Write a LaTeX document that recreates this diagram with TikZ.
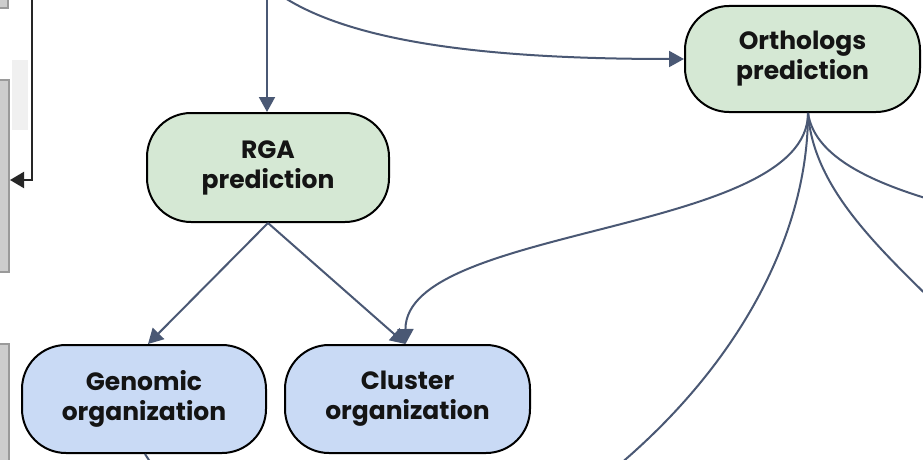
\documentclass[tikz,border=0pt]{standalone}
\usepackage{fontspec}
\setmainfont{Poppins}
\usetikzlibrary{arrows.meta}
\definecolor{slate}{HTML}{4A5874}
\definecolor{greenfill}{HTML}{D5E8D4}
\definecolor{bluefill}{HTML}{C9DAF5}
\definecolor{panelgray}{HTML}{CDCDCD}
\definecolor{panelline}{HTML}{9A9A9A}
\tikzset{
  stepbox/.style={draw=black, line width=2pt, rounded corners=44pt,
    align=center, inner sep=0pt, text=black!92,
    font=\bfseries\fontsize{25}{30}\selectfont},
  greenbox/.style={stepbox, fill=greenfill},
  bluebox/.style={stepbox, fill=bluefill},
  link/.style={draw=slate, line width=2pt},
  arrowlink/.style={link, -{Triangle[length=15pt,width=16pt]}},
  panel/.style={fill=panelgray, draw=panelline, line width=1.5pt},
}
\begin{document}
\begin{tikzpicture}[x=1pt, y=-1pt]
\useasboundingbox (0,0) rectangle (923,460);
\clip (0,0) rectangle (923,460);
\fill[white] (0,0) rectangle (923,460);

% grey panels at the left margin
\draw[panel] (-10,-10) rectangle (8,8);
\draw[panel] (-10,80) rectangle (9,272);
\draw[panel] (-10,344) rectangle (9,475);
\fill[gray!12] (12,60) rectangle (28,130);
\coordinate (loopstart) at (32,-10);
\coordinate (loopcorner) at (32,180);
\coordinate (loopend) at (10,180);
\draw[black!85, line width=2pt, -{Triangle[length=14pt,width=16pt]}]
  (loopstart) -- (loopcorner) -- (loopend);

% process boxes
\node[greenbox, minimum width=242pt, minimum height=109pt] (rga) at (268,167.5) {RGA\\prediction};
\node[greenbox, minimum width=235pt, minimum height=106pt] (orth) at (802.5,59) {Orthologs\\prediction};
\node[bluebox, minimum width=244pt, minimum height=108pt] (gen) at (144,399) {Genomic\\organization};
\node[bluebox, minimum width=245pt, minimum height=108pt] (clu) at (407.5,399) {Cluster\\organization};

% incoming links from above
\coordinate (topA) at (267,-10);
\coordinate (topB) at (276,-8);
\draw[arrowlink] (topA) -- (rga.north -| topA);
\draw[arrowlink] (topB) .. controls (350,45) and (500,59) .. (orth.west);

% RGA to organisation boxes
\draw[arrowlink] (rga.south) -- ([xshift=4pt]gen.north);
\draw[arrowlink] (rga.south) -- ([xshift=-2pt]clu.north);

% fan-out from ortholog prediction
\coordinate (orthout) at ([xshift=5.5pt]orth.south);
\coordinate (fanA) at (560,510);
\coordinate (fanB) at (1000,370);
\coordinate (fanC) at (990,215);
\draw[arrowlink] (orthout) .. controls (808,235) and (405,225) .. ([xshift=-2pt]clu.north);
\draw[link] (orthout) .. controls (808,250) and (720,400) .. (fanA);
\draw[link] (orthout) .. controls (815,210) and (920,280) .. (fanB);
\draw[link] (orthout) .. controls (815,160) and (880,190) .. (fanC);

% link leaving the genomic box downwards
\coordinate (genout) at (165,485);
\draw[link] ([xshift=1pt]gen.south) -- (genout);
\end{tikzpicture}
\end{document}
